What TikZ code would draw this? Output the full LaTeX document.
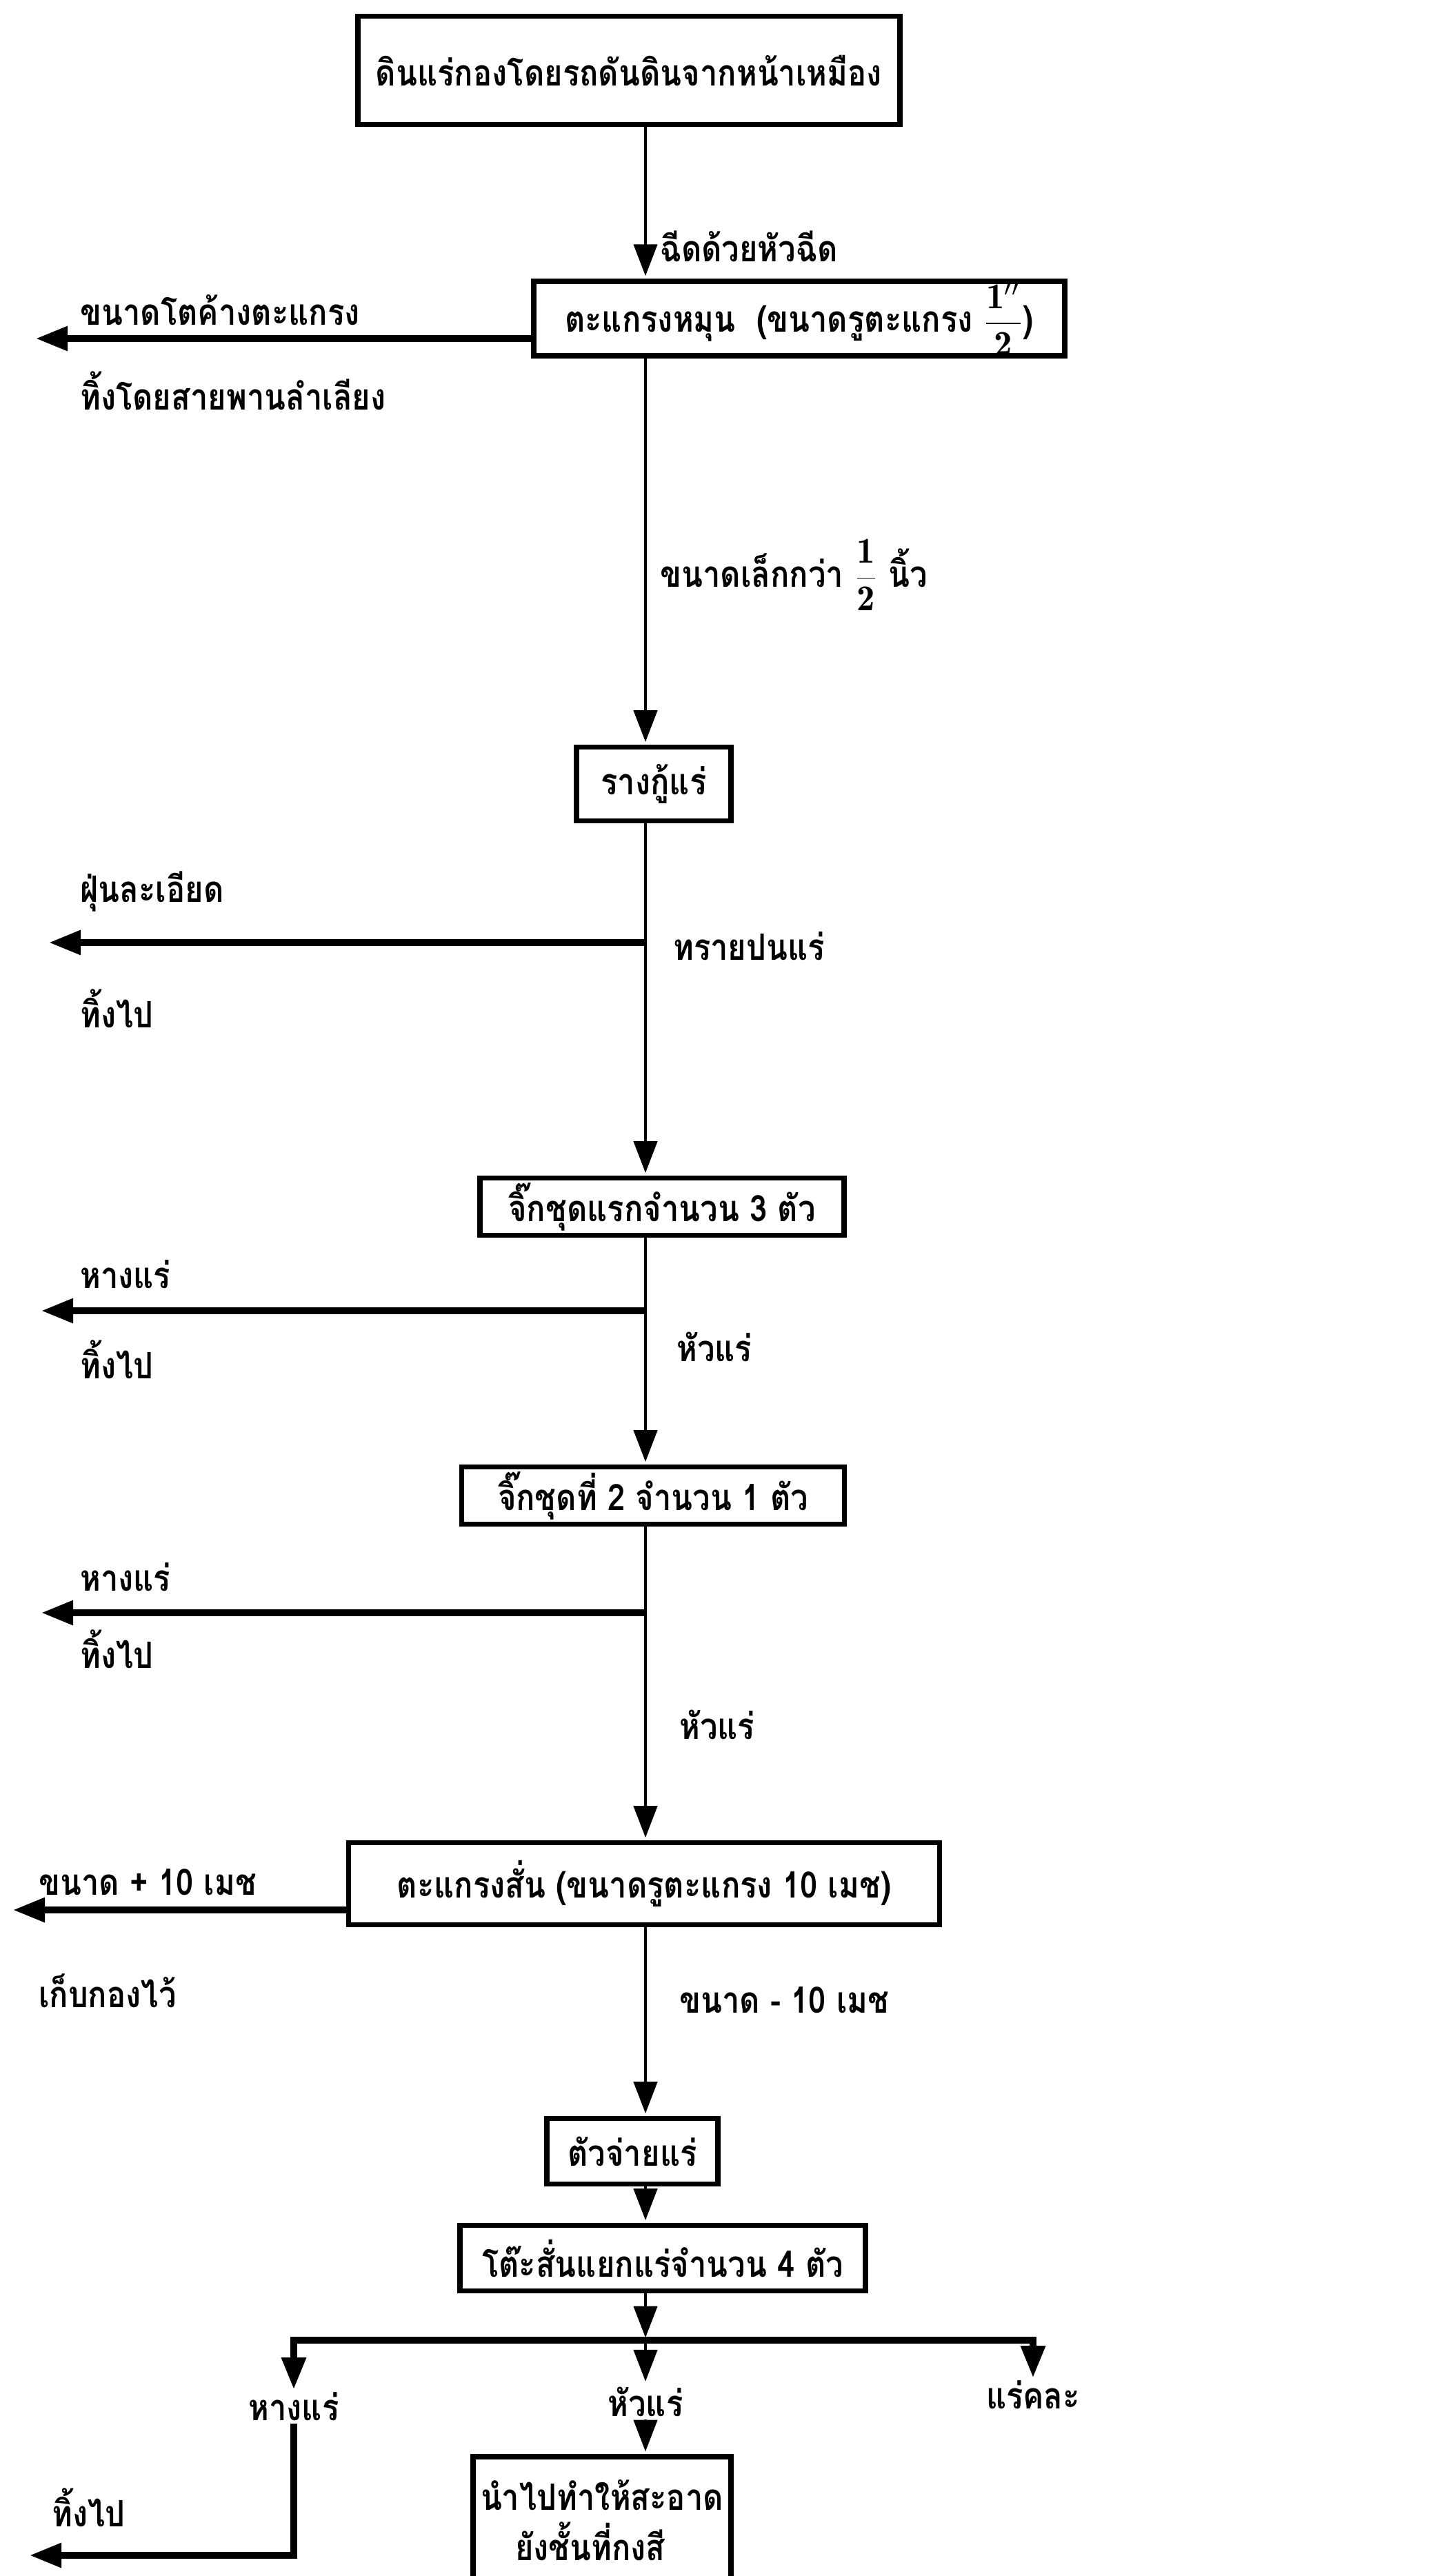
\documentclass[tikz,border=0pt]{standalone}
\usepackage{fontspec}
\newfontfamily\thaifont[Script=Thai,FakeStretch=0.86]{Loma}
\usetikzlibrary{arrows.meta,calc}

\begin{document}
\begin{tikzpicture}[
  x=1cm,y=1cm,
  flow/.style={-{Triangle[length=4.6mm,width=3.4mm]}, draw=black,
    line width=1.3pt, shorten >=1pt},
  spur/.style={-{Triangle[length=4.6mm,width=3.4mm]}, draw=black,
    line width=2.6pt},
  stage/.style={draw=black, line width=2.2pt, inner sep=0pt,
    font=\thaifont\bfseries\fontsize{15}{18}\selectfont},
  note/.style={inner sep=1pt,
    font=\thaifont\bfseries\fontsize{15}{18}\selectfont}
]

\useasboundingbox (0,0) rectangle (21.06,-37.36);
\coordinate (spine) at (9.36,0);

% Process stages, top to bottom.
\node[stage, minimum width=7.86cm, minimum height=1.57cm]
  (pile) at (9.12,-1.02) {ดินแร่กองโดยรถดันดินจากหน้าเหมือง};
\node[stage, minimum width=7.70cm, minimum height=0.90cm]
  (trommel) at (11.59,-4.62)
  {ตะแกรงหมุน \ (ขนาดรูตะแกรง $\displaystyle\frac{\mathbf{1}''}{\mathbf{2}}$)};
\node[stage, minimum width=2.24cm, minimum height=1.07cm]
  (sluice) at (9.48,-11.37) {รางกู้แร่};
\node[stage, minimum width=5.28cm, minimum height=0.83cm]
  (jigA) at (9.60,-17.50) {จิ๊กชุดแรกจำนวน 3 ตัว};
\node[stage, minimum width=5.55cm, minimum height=0.83cm]
  (jigB) at (9.47,-21.69) {จิ๊กชุดที่ 2 จำนวน 1 ตัว};
\node[stage, minimum width=8.57cm, minimum height=1.19cm]
  (shaker) at (9.34,-27.32) {ตะแกรงสั่น (ขนาดรูตะแกรง 10 เมช)};
\node[stage, minimum width=2.48cm, minimum height=0.95cm]
  (feeder) at (9.17,-31.20) {ตัวจ่ายแร่};
\node[stage, minimum width=5.88cm, minimum height=0.95cm]
  (table) at (9.61,-32.75) {โต๊ะสั่นแยกแร่จำนวน 4 ตัว};
\node[stage, minimum width=3.74cm, minimum height=1.85cm,
  anchor=north, align=left] (clean) at (8.73,-35.59)
  {นำไปทำให้สะอาด\\[0.1cm]\hspace*{0.5cm}ยังชั้นที่กงสี};

% Labels beside the main line.
\node[note, anchor=west] (nozzle) at (9.53,-3.57) {ฉีดด้วยหัวฉีด};
\node[note, anchor=west] (fines) at (9.53,-8.34)
  {ขนาดเล็กกว่า $\displaystyle\frac{\mathbf{1}}{\mathbf{2}}$ นิ้ว};
\node[note, anchor=west] (sand) at (9.72,-13.72) {ทรายปนแร่};
\node[note, anchor=west] (headA) at (9.77,-19.53) {หัวแร่};
\node[note, anchor=west] (headB) at (9.81,-25.01) {หัวแร่};
\node[note, anchor=west] (minus) at (9.81,-29.01) {ขนาด - 10 เมช};

% Labels of the rejected streams.
\node[note, anchor=south west] (overA) at (1.12,-4.76) {ขนาดโตค้างตะแกรง};
\node[note, anchor=west] (overB) at (1.12,-5.67) {ทิ้งโดยสายพานลำเลียง};
\node[note, anchor=west] (dustA) at (1.12,-12.93) {ฝุ่นละเอียด};
\node[note, anchor=west] (dustB) at (1.12,-14.63) {ทิ้งไป};
\node[note, anchor=west] (tailA) at (1.12,-18.48) {หางแร่};
\node[note, anchor=west] (tailAB) at (1.12,-19.72) {ทิ้งไป};
\node[note, anchor=west] (tailB) at (1.12,-22.87) {หางแร่};
\node[note, anchor=west] (tailBB) at (1.12,-23.92) {ทิ้งไป};
\node[note, anchor=west] (plus) at (0.52,-27.30) {ขนาด + 10 เมช};
\node[note, anchor=west] (stock) at (0.52,-28.87) {เก็บกองไว้};

% Products of the shaking tables.
\node[note] (tails) at (4.26,-34.90) {หางแร่};
\node[note] (heads) at (9.36,-34.83) {หัวแร่};
\node[note] (mixed) at (14.98,-34.73) {แร่คละ};
\node[note, anchor=west] (dump) at (0.71,-36.37) {ทิ้งไป};

% Free ends of the side arrows.
\coordinate (overtip) at (0.52,-4.91);
\coordinate (dusttip) at (0.71,-13.67);
\coordinate (tailAtip) at (0.60,-19.01);
\coordinate (tailBtip) at (0.60,-23.39);
\coordinate (coarsetip) at (0.19,-27.70);
\coordinate (split) at (9.36,-33.94);
\coordinate (dumptip) at (0.43,-37.06);

% Main line.
\draw[flow] (pile.south -| spine) -- (trommel.north -| spine);
\draw[flow] (trommel.south -| spine) -- (sluice.north -| spine);
\draw[flow] (sluice.south -| spine) -- (jigA.north -| spine);
\draw[flow] (jigA.south -| spine) -- (jigB.north -| spine);
\draw[flow] (jigB.south -| spine) -- (shaker.north -| spine);
\draw[flow] (shaker.south -| spine) -- (feeder.north -| spine);
\draw[flow] (feeder.south -| spine) -- (table.north -| spine);
\draw[flow] (table.south -| spine) -- (split);

% Side streams.
\draw[spur] (overtip -| trommel.west) -- (overtip);
\draw[spur] (dusttip -| spine) -- (dusttip);
\draw[spur] (tailAtip -| spine) -- (tailAtip);
\draw[spur] (tailBtip -| spine) -- (tailBtip);
\draw[spur] (coarsetip -| shaker.west) -- (coarsetip);

% Split below the tables.
\draw[spur] (split) -| (tails.north);
\draw[spur] (split) -| (mixed.north);
\draw[flow] (split) -- (heads.north);
\draw[flow] (heads.south) -- (clean.north -| heads.south);
\draw[spur] (tails.south) |- (dumptip);

\end{tikzpicture}
\end{document}
